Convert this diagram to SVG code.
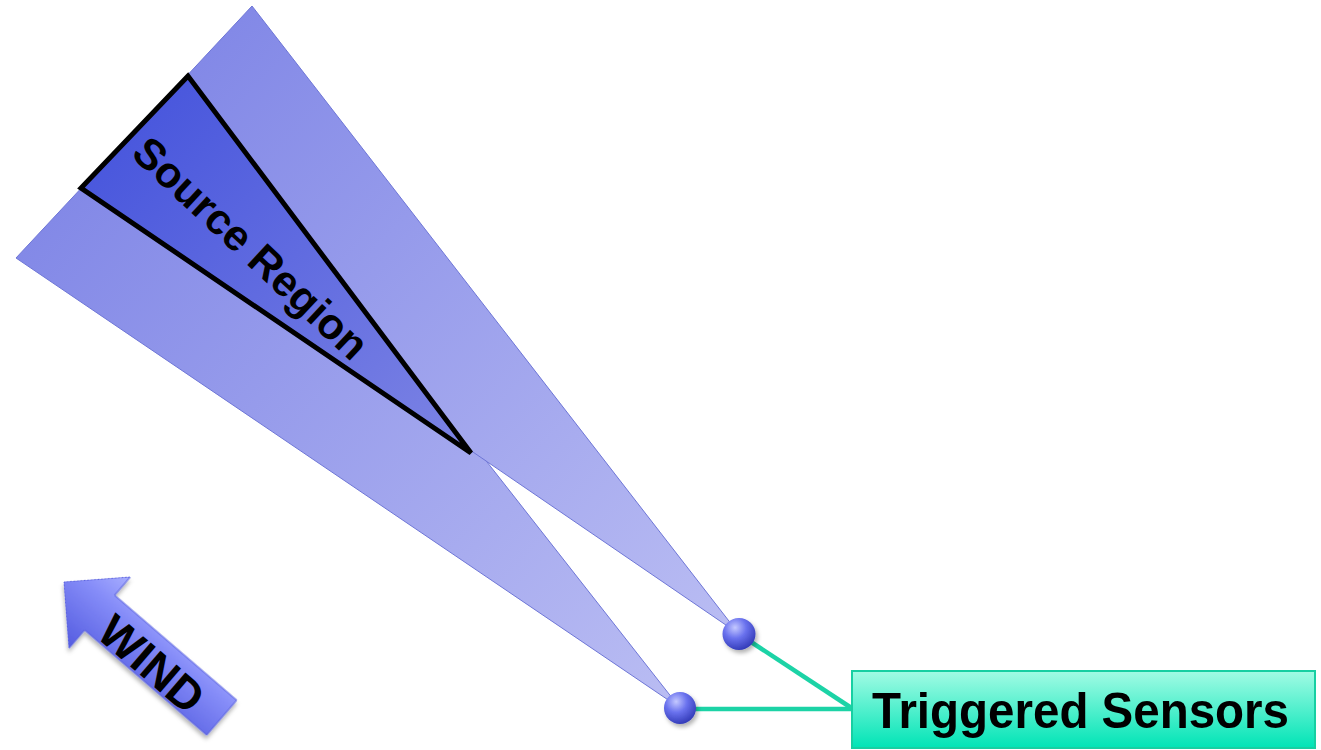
<svg xmlns="http://www.w3.org/2000/svg" width="1321" height="750" viewBox="0 0 1321 750">
<style>
.cone{stroke:#6e76d6;stroke-width:1;stroke-linejoin:miter}
.lbl{font-family:"Liberation Sans",Arial,sans-serif;font-weight:bold;fill:#000}
.conn{stroke:#1cd3a6;stroke-width:4.5;fill:none}
</style>
<defs>
<linearGradient id="gA" gradientUnits="userSpaceOnUse" x1="168" y1="96" x2="739" y2="634">
<stop offset="0" stop-color="#8389e7"/><stop offset="1" stop-color="#babdf3"/>
</linearGradient>
<linearGradient id="gB" gradientUnits="userSpaceOnUse" x1="100" y1="167" x2="680" y2="708">
<stop offset="0" stop-color="#8389e7"/><stop offset="1" stop-color="#babdf3"/>
</linearGradient>
<linearGradient id="gS" gradientUnits="userSpaceOnUse" x1="134" y1="132" x2="471" y2="453">
<stop offset="0" stop-color="#4a58dd"/><stop offset="1" stop-color="#7d84e4"/>
</linearGradient>
<linearGradient id="gW" gradientUnits="userSpaceOnUse" x1="0" y1="-47" x2="0" y2="47">
<stop offset="0" stop-color="#a8aeff"/><stop offset="0.35" stop-color="#858cf8"/><stop offset="1" stop-color="#545ce0"/>
</linearGradient>
<radialGradient id="gSen" cx="0.38" cy="0.3" r="0.75">
<stop offset="0" stop-color="#c4c8ff"/><stop offset="0.45" stop-color="#6a72ee"/><stop offset="1" stop-color="#2f37b4"/>
</radialGradient>
<linearGradient id="gBox" x1="0" y1="0" x2="0" y2="1">
<stop offset="0" stop-color="#a2fbe4"/><stop offset="1" stop-color="#00e4b6"/>
</linearGradient>
<filter id="sh" x="-20%" y="-20%" width="140%" height="140%">
<feDropShadow dx="2" dy="3" stdDeviation="2" flood-color="#000" flood-opacity="0.3"/>
</filter>
</defs>

<g id="cone-b"><polygon class="cone" points="680,708 185,77 16,258" fill="url(#gB)"/></g>
<g id="cone-a"><polygon class="cone" points="739,634 252,6 84,186" fill="url(#gA)"/></g>

<g id="source-region">
<polygon points="188,76 81,188 471,453" fill="url(#gS)" stroke="#000" stroke-width="5" stroke-linejoin="miter"/>
<text class="lbl" font-size="43" text-anchor="middle" transform="translate(251,248) rotate(43)" x="0" y="15">Source Region</text>
</g>

<g id="wind" transform="translate(64,582) rotate(40.7)">
<path d="M0,0 L47,-47 L47,-23 L208,-23 L208,23 L47,23 L47,47 Z" fill="url(#gW)" stroke="#5a62e0" stroke-width="1" filter="url(#sh)"/>
<text class="lbl" font-size="46" text-anchor="middle" x="120" y="21">WIND</text>
</g>

<g id="connectors">
<line class="conn" x1="739" y1="634" x2="853" y2="709"/>
<line class="conn" x1="680" y1="709" x2="853" y2="709"/>
</g>

<g id="sensor-1"><ellipse cx="739" cy="634" rx="16.5" ry="16" fill="url(#gSen)" filter="url(#sh)"/></g>
<g id="sensor-2"><ellipse cx="680" cy="708" rx="16" ry="16" fill="url(#gSen)" filter="url(#sh)"/></g>

<g id="triggered-sensors">
<rect x="852" y="671" width="463" height="77" fill="url(#gBox)" stroke="#17cfa2" stroke-width="2"/>
<text class="lbl" font-size="50" x="872" y="728" textLength="417" lengthAdjust="spacingAndGlyphs">Triggered Sensors</text>
</g>
</svg>
